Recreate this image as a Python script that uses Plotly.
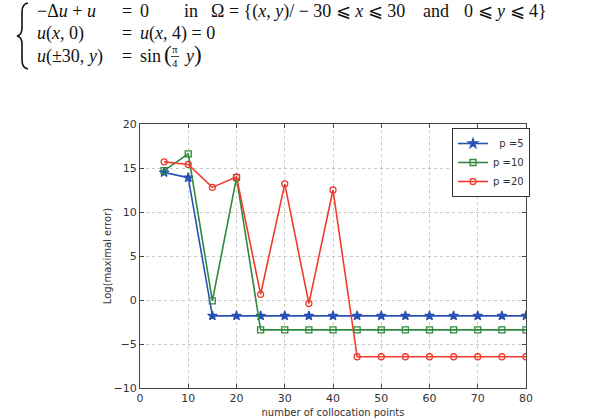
import plotly.graph_objects as go

x_points = [5, 10, 15, 20, 25, 30, 35, 40, 45, 50, 55, 60, 65, 70, 75, 80]
err_p5 = [14.5, 13.9, -1.8, -1.8, -1.8, -1.8, -1.8, -1.8, -1.8, -1.8, -1.8, -1.8, -1.8, -1.8, -1.8, -1.8]
err_p10 = [14.7, 16.6, -0.1, 13.9, -3.4, -3.4, -3.4, -3.4, -3.4, -3.4, -3.4, -3.4, -3.4, -3.4, -3.4, -3.4]
err_p20 = [15.7, 15.4, 12.8, 14.0, 0.65, 13.2, -0.4, 12.5, -6.45, -6.45, -6.45, -6.45, -6.45, -6.45, -6.45, -6.45]
series_names = ["  p =5", "p =10", "p =20"]
colors = ["#2a52b4", "#2e8a3c", "#f03c2a"]
symbols = ["star", "square-open", "circle-open"]

fig = go.Figure()
for ys, name, c, s in zip([err_p5, err_p10, err_p20], series_names, colors, symbols):
    fig.add_trace(go.Scatter(
        x=x_points, y=ys, name=name, mode="lines+markers",
        line=dict(color=c, width=1.6),
        marker=dict(symbol=s, size=7 if s == "star" else 6, color=c,
                    line=dict(color=c, width=1.3)),
    ))

axis_common = dict(
    showline=True, linecolor="#444", linewidth=1, mirror="ticks",
    ticks="inside", ticklen=4, tickcolor="#444", automargin=False,
    showgrid=True, gridcolor="#c8c8c8", griddash="dot", gridwidth=1,
    zeroline=False, tickfont=dict(family="DejaVu Sans", size=11, color="#333"),
)
fig.update_xaxes(range=[0, 80], dtick=10, tick0=0,
                 title=dict(text="number of collocation points", standoff=4,
                            font=dict(family="DejaVu Sans", size=10, color="#333")),
                 **axis_common)
fig.update_yaxes(range=[-10, 20], dtick=5, tick0=0,
                 title=dict(text="Log(maximal error)", standoff=0,
                            font=dict(family="DejaVu Sans", size=10, color="#333")),
                 **axis_common)

serif = "Liberation Serif"
anns = []
W, H = 595, 420
L, R, T, B = 140, 69, 124, 32
pw, ph = W - L - R, H - T - B
def px(xp):
    return (xp - L) / pw
def py(yp):
    return (H - B - yp) / ph

def txt(x, y, t, size=18, xanchor="left"):
    anns.append(dict(xref="paper", yref="paper", x=px(x), y=py(y), text=t, showarrow=False,
                     xanchor=xanchor, yanchor="middle",
                     font=dict(family=serif, size=size, color="#111")))

# line 1
txt(35, 11, "−Δ<i>u</i> + <i>u</i>")
txt(120, 11, "=")
txt(138, 11, "0")
txt(182, 11, "in")
txt(209, 11, "Ω = {(<i>x</i>, <i>y</i>)/ − 30 ⩽ <i>x</i> ⩽ 30")
txt(421, 11, "and")
txt(462, 11, "0 ⩽ <i>y</i> ⩽ 4}")
# line 2
txt(35, 33, "<i>u</i>(<i>x</i>, 0)")
txt(120, 33, "=")
txt(138, 33, "<i>u</i>(<i>x</i>, 4) = 0")
# line 3
txt(35, 56, "<i>u</i>(±30, <i>y</i>)")
txt(120, 56, "=")
txt(138, 56, "sin")
txt(162, 55, "(", size=23)
txt(175, 49, "π", size=11, xanchor="center")
txt(175, 63, "4", size=11, xanchor="center")
txt(182, 56, "<i>y</i>")
txt(192, 55, ")", size=23)

def P(x, y):
    return f"{px(x):.5f},{py(y):.5f}"
brace = ("M " + P(28, 3) + " Q " + P(22, 4) + " " + P(22, 12) + " L " + P(22, 28)
         + " Q " + P(22, 35) + " " + P(17, 36) + " Q " + P(22, 37) + " " + P(22, 44)
         + " L " + P(22, 60) + " Q " + P(22, 68) + " " + P(28, 69))
shapes = [
    dict(type="line", xref="paper", yref="paper",
         x0=px(171), x1=px(179), y0=py(56.5), y1=py(56.5),
         line=dict(color="#111", width=0.8)),
    dict(type="path", xref="paper", yref="paper", path=brace,
         line=dict(color="#111", width=1.6)),
]

fig.update_layout(
    width=W, height=H, margin=dict(l=L, r=R, t=T, b=B),
    paper_bgcolor="white", plot_bgcolor="white",
    annotations=anns, shapes=shapes,
    showlegend=True,
    legend=dict(x=px(530), y=py(128), xanchor="right", yanchor="top",
                bgcolor="white", bordercolor="#333", borderwidth=1,
                font=dict(family="DejaVu Sans", size=10, color="#333"),
                itemwidth=30, tracegroupgap=0),
)
fig.write_html("out.html")
